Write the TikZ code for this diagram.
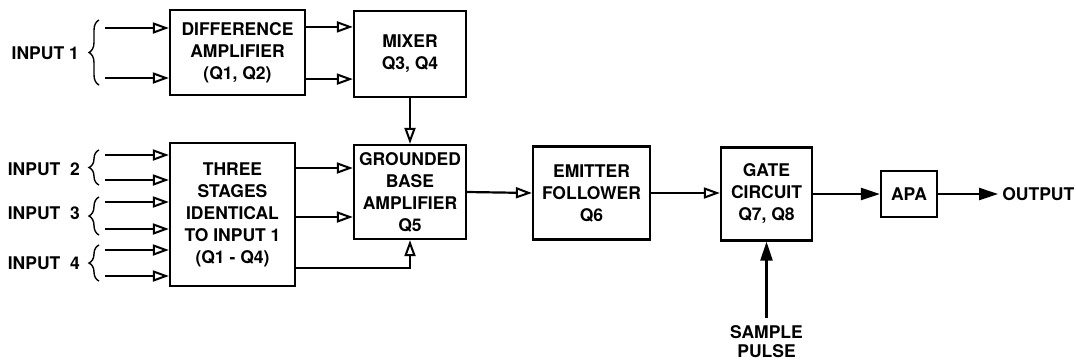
\documentclass[tikz,border=0pt]{standalone}
\usepackage{fontspec}
\setmainfont{TeX Gyre Heros}
\usepackage{tikz}
\usetikzlibrary{arrows.meta, positioning, decorations.pathreplacing}

\tikzset{
  block/.style={draw, line width=2.2pt, align=center, inner sep=0pt},
  wire/.style={line width=2.2pt},
  oarrow/.style={wire, -{Triangle[open, length=16pt, width=11pt, line width=2pt]}},
  farrow/.style={wire, -{Triangle[length=19pt, width=12pt]}},
  brace/.style={decorate, decoration={brace, amplitude=10pt}, line width=1.4pt},
  lbl/.style={align=center, inner sep=0pt},
}

\begin{document}
\begin{tikzpicture}[x=1pt, y=-1pt, font=\fontsize{17.5}{22}\selectfont\bfseries]
  \useasboundingbox (0,0) rectangle (1076,360);

  % Blocks
  \node[block, minimum width=135pt, minimum height=85pt] (diff) at (237.5,52.5)
    {DIFFERENCE\\AMPLIFIER\\(Q1, Q2)};
  \node[block, minimum width=112pt, minimum height=86pt] (mixer) at (410,54)
    {MIXER\\Q3, Q4};
  \node[block, minimum width=125pt, minimum height=143pt] (three) at (232.5,214.5)
    {THREE\\STAGES\\IDENTICAL\\TO INPUT 1\\(Q1 - Q4)};
  \node[block, minimum width=112pt, minimum height=94pt] (gba) at (410,192)
    {GROUNDED\\BASE\\AMPLIFIER\\Q5};
  \node[block, minimum width=117pt, minimum height=93pt] (ef) at (591.5,193)
    {EMITTER\\FOLLOWER\\Q6};
  \node[block, minimum width=91pt, minimum height=93pt] (gate) at (766.5,194)
    {GATE\\CIRCUIT\\Q7, Q8};
  \node[block, minimum width=56pt, minimum height=46pt] (apa) at (909,194)
    {APA};

  % Input ends
  \coordinate (in1a) at (105,28);
  \coordinate (in1b) at (105,78);
  \coordinate (in2a) at (105,155);
  \coordinate (in2b) at (105,180);
  \coordinate (in3a) at (105,202);
  \coordinate (in3b) at (105,229);
  \coordinate (in4a) at (105,250);
  \coordinate (in4b) at (105,276);

  % Input arrows
  \draw[oarrow] (in1a) -- (in1a -| diff.west);
  \draw[oarrow] (in1b) -- (in1b -| diff.west);
  \draw[oarrow] (in2a) -- (in2a -| three.west);
  \draw[oarrow] (in2b) -- (in2b -| three.west);
  \draw[oarrow] (in3a) -- (in3a -| three.west);
  \draw[oarrow] (in3b) -- (in3b -| three.west);
  \draw[oarrow] (in4a) -- (in4a -| three.west);
  \draw[oarrow] (in4b) -- (in4b -| three.west);

  % Braces and input labels
  \draw[brace] ([xshift=-6pt, yshift=-7pt]in1b) -- ([xshift=-6pt, yshift=8pt]in1a);
  \draw[brace] ([xshift=-6pt, yshift=-5pt]in2b) -- ([xshift=-6pt, yshift=5pt]in2a);
  \draw[brace] ([xshift=-6pt, yshift=-6pt]in3b) -- ([xshift=-6pt, yshift=5pt]in3a);
  \draw[brace] ([xshift=-6pt, yshift=-5pt]in4b) -- ([xshift=-6pt, yshift=5pt]in4a);
  \node[lbl, anchor=east] (lin1) at (79,53)  {INPUT 1};
  \node[lbl, anchor=east] (lin2) at (80,169) {INPUT\ \ 2};
  \node[lbl, anchor=east] (lin3) at (80,213) {INPUT\ \ 3};
  \node[lbl, anchor=east] (lin4) at (80,263) {INPUT\ \ 4};

  % Difference amplifier to mixer
  \coordinate (m1) at ([yshift=-17pt]mixer.north west);
  \coordinate (m2) at ([yshift=19pt]mixer.south west);
  \draw[oarrow] (m1 -| diff.east) -- (m1);
  \draw[oarrow] (m2 -| diff.east) -- (m2);
  \draw[oarrow] (mixer.south) -- (gba.north);

  % Three stages to grounded base amplifier
  \coordinate (g1) at ([yshift=24pt]gba.west);
  \coordinate (g2) at ([yshift=-25pt]gba.west);
  \coordinate (g3) at ([yshift=-28pt]gba.south);
  \draw[oarrow] (g1 -| three.east) -- (g1);
  \draw[oarrow] (g2 -| three.east) -- (g2);
  \draw[oarrow] (g3 -| three.east) -- (g3) -- (gba.south);

  % Main chain
  \draw[oarrow] (gba.east) -- (ef.west);
  \draw[oarrow] (ef.east) -- (ef.east -| gate.west);
  \draw[farrow] (gate.east) -- (gate.east -| apa.west);
  \coordinate (out) at ([xshift=60pt]apa.east);
  \draw[farrow] (apa.east) -- (out);
  \node[lbl, right=4pt of out] (outlbl) {OUTPUT};

  % Sample pulse
  \node[lbl, anchor=north, font=\fontsize{17.5}{19}\selectfont\bfseries] (sample)
    at ([yshift=-84pt]gate.south) {SAMPLE\\PULSE};
  \draw[farrow] ([yshift=8pt]sample.north) -- (gate.south);
\end{tikzpicture}
\end{document}
